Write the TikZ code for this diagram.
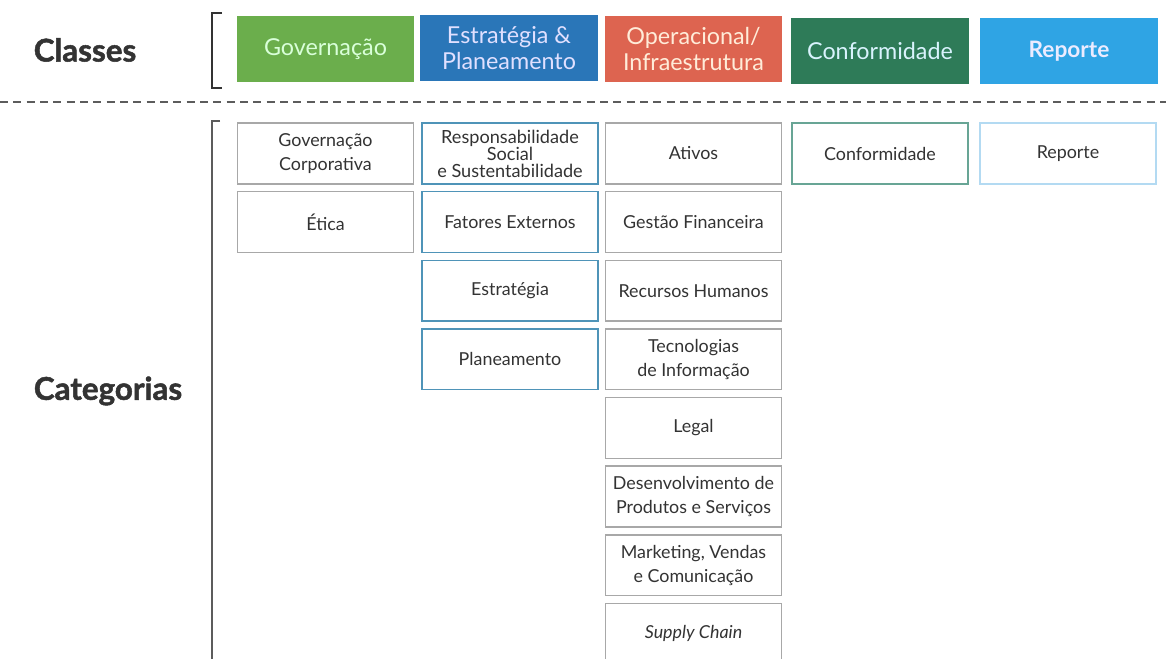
\documentclass[tikz,border=0pt]{standalone}
\usepackage{fontspec}
\setmainfont{Lato}
\newfontfamily\grosso[FakeBold=1.6]{Lato}
\definecolor{verdegov}{HTML}{6BAE4C}
\definecolor{azulest}{HTML}{2A76B8}
\definecolor{vermop}{HTML}{DD6450}
\definecolor{verdecon}{HTML}{2E7B58}
\definecolor{azulrep}{HTML}{2FA4E4}
\definecolor{txtcinza}{HTML}{333333}
\definecolor{bordacinza}{HTML}{A8A8A8}
\definecolor{bordaazul}{HTML}{4F94B8}
\definecolor{bordaverde}{HTML}{68A595}
\definecolor{bordaclara}{HTML}{B3DAF2}
\begin{document}
\begin{tikzpicture}[x=0.75pt,y=-0.75pt,
  classe/.style={fill=#1,minimum width=133pt,minimum height=50pt,inner sep=1pt,align=center,
    font=\fontsize{17.5}{19.5}\selectfont},
  categ/.style={draw=#1,line width=1.1pt,fill=white,minimum width=132pt,minimum height=45.5pt,
    inner sep=1pt,align=center,text=txtcinza,font=\fontsize{13.4}{18}\selectfont},
  titulo/.style={text=txtcinza,font=\fontsize{23.5}{26}\grosso\bfseries}]
\useasboundingbox (0,0) rectangle (1166,659);
\clip (0,0) rectangle (1166,659);
\pgfmathsetmacro{\passo}{68.6}
\pgfmathsetmacro{\topo}{153.5}
% titulos
\node[titulo] (classes) at (85,50) {Classes};
\node[titulo] (categorias) at (108,391) {Categorias};
\draw[line width=1.4pt,txtcinza](222,13)--(212,13)--(212,88)--(222,88);
\draw[line width=1.4pt,txtcinza!80,dash pattern=on 6pt off 4pt](0,102)--(1166,102);
\draw[line width=1.4pt,txtcinza!80](220,121)--(212,121)--(212,670);
% classes
\node[classe=verdegov,text=green!15!white] (gov) at (325.5,49) {Governação};
\node[classe=azulest,text=blue!12!white] (est) at (509,48) {Estratégia \&\\Planeamento};
\node[classe=vermop,text=orange!15!white] (ope) at (693.5,49) {Operacional/\\Infraestrutura};
\node[classe=verdecon,text=cyan!15!white] (con) at (880,51) {Conformidade};
\node[classe=azulrep,text=blue!8!white,font=\fontsize{17}{19}\selectfont\bfseries] (rep) at (1069,51) {Reporte};
% categorias
\node[categ=bordacinza] (govcorp) at (325.5,\topo) {Governação\\Corporativa};
\node[categ=bordacinza] (etica) at (325.5,\topo+\passo) {Ética};
\node[categ=bordaazul,font=\fontsize{13.6}{12.8}\selectfont] (rss) at (510,\topo) {Responsabilidade\\Social\\e Sustentabilidade};
\node[categ=bordaazul] (fatext) at (510,\topo+\passo) {Fatores Externos};
\node[categ=bordaazul] (estrat) at (510,\topo+2*\passo) {Estratégia};
\node[categ=bordaazul] (plan) at (510,\topo+3*\passo) {Planeamento};
\node[categ=bordacinza] (ativos) at (693.5,\topo) {Ativos};
\node[categ=bordacinza] (gestfin) at (693.5,\topo+\passo) {Gestão Financeira};
\node[categ=bordacinza] (rh) at (693.5,\topo+2*\passo) {Recursos Humanos};
\node[categ=bordacinza] (ti) at (693.5,\topo+3*\passo) {Tecnologias\\de Informação};
\node[categ=bordacinza] (legal) at (693.5,\topo+4*\passo) {Legal};
\node[categ=bordacinza] (dps) at (693.5,\topo+5*\passo) {Desenvolvimento de\\Produtos e Serviços};
\node[categ=bordacinza] (mvc) at (693.5,\topo+6*\passo) {Marketing, Vendas\\e Comunicação};
\node[categ=bordacinza] (supply) at (693.5,\topo+7*\passo) {\itshape Supply Chain};
\node[categ=bordaverde] (conf) at (880,\topo) {Conformidade};
\node[categ=bordaclara] (report) at (1068,\topo) {Reporte};
\end{tikzpicture}
\end{document}
